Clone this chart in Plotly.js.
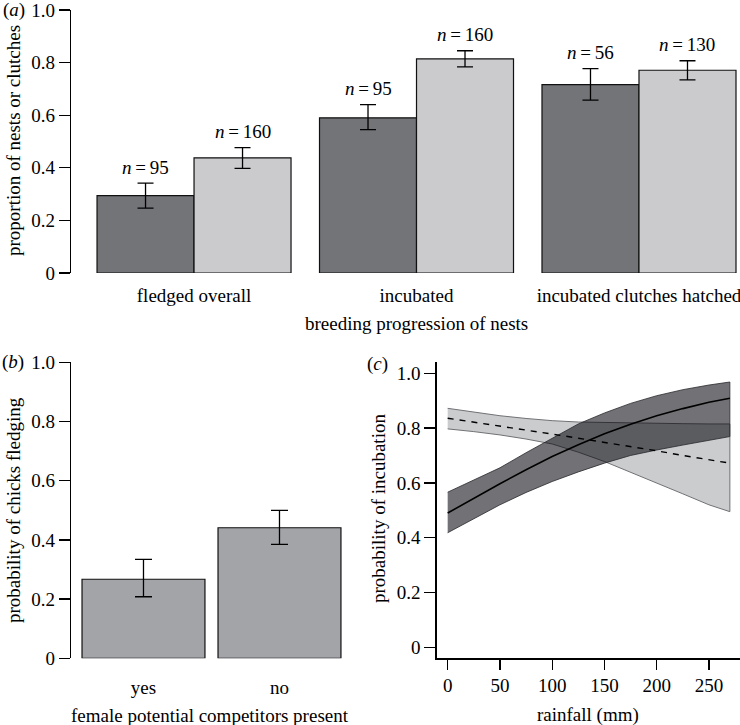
<!DOCTYPE html>
<html>
<head>
<meta charset="utf-8">
<script src="https://cdn.plot.ly/plotly-3.0.1.min.js"></script>
<style>html,body{margin:0;padding:0;background:#fff;}#chart{width:740px;height:725px;}</style>
</head>
<body>
<div id="chart"></div>
<script>
// ---------- Panel (a) data ----------
const catsA = ["fledged overall", "incubated", "incubated clutches hatched"];
const darkVals  = [0.294, 0.590, 0.716];
const darkUpper = [0.342, 0.640, 0.777];
const darkLower = [0.247, 0.545, 0.657];
const lightVals  = [0.438, 0.814, 0.771];
const lightUpper = [0.477, 0.845, 0.807];
const lightLower = [0.398, 0.784, 0.734];
const darkN  = [95, 95, 56];
const lightN = [160, 160, 130];

// ---------- Panel (b) data ----------
const catsB = ["yes", "no"];
const valsB  = [0.267, 0.441];
const upperB = [0.334, 0.500];
const lowerB = [0.208, 0.385];

// ---------- Panel (c) data ----------
const rainfall   = [0, 25, 50, 75, 100, 125, 150, 175, 200, 225, 250, 270];
const solidFit   = [0.490, 0.544, 0.597, 0.648, 0.696, 0.739, 0.779, 0.814, 0.845, 0.871, 0.894, 0.909];
const solidUpper = [0.566, 0.610, 0.655, 0.710, 0.762, 0.815, 0.855, 0.890, 0.918, 0.940, 0.957, 0.968];
const solidLower = [0.418, 0.470, 0.520, 0.565, 0.605, 0.640, 0.672, 0.700, 0.720, 0.738, 0.756, 0.769];
const dashFit    = [0.836, 0.822, 0.808, 0.793, 0.778, 0.763, 0.748, 0.732, 0.717, 0.700, 0.685, 0.672];
const dashUpper  = [0.872, 0.858, 0.845, 0.835, 0.827, 0.822, 0.820, 0.818, 0.817, 0.816, 0.815, 0.815];
const dashLower  = [0.797, 0.787, 0.775, 0.760, 0.742, 0.712, 0.678, 0.640, 0.600, 0.560, 0.520, 0.495];

const yTickVals = [0, 0.2, 0.4, 0.6, 0.8, 1.0];
const yTickText = ["0", "0.2", "0.4", "0.6", "0.8", "1.0"];
const xTickVals = [0, 50, 100, 150, 200, 250];

// ---------- helpers ----------
const W = 740, H = 725;
const px = v => v / W;
const py = v => 1 - v / H;
const FONT = "'Liberation Serif', 'Times New Roman', serif";
const FS = 19;
const sub = (a, b) => a.map((v, i) => v - b[i]);

const errStyle = {color: "#000", thickness: 1.3, width: 8};

const traces = [];
// (a)
traces.push({
  type: "bar", x: catsA, y: darkVals, xaxis: "x", yaxis: "y",
  marker: {color: "#737478", line: {color: "#111", width: 1.2}},
  error_y: Object.assign({type: "data", symmetric: false, array: sub(darkUpper, darkVals), arrayminus: sub(darkVals, darkLower)}, errStyle),
  hoverinfo: "skip", showlegend: false
});
traces.push({
  type: "bar", x: catsA, y: lightVals, xaxis: "x", yaxis: "y",
  marker: {color: "#cbcbce", line: {color: "#111", width: 1.2}},
  error_y: Object.assign({type: "data", symmetric: false, array: sub(lightUpper, lightVals), arrayminus: sub(lightVals, lightLower)}, errStyle),
  hoverinfo: "skip", showlegend: false
});
// (b)
traces.push({
  type: "bar", x: catsB, y: valsB, xaxis: "x2", yaxis: "y2", width: 0.904,
  marker: {color: "#a3a4a8", line: {color: "#111", width: 1.2}},
  error_y: Object.assign({type: "data", symmetric: false, array: sub(upperB, valsB), arrayminus: sub(valsB, lowerB)}, errStyle, {width: 8.5}),
  hoverinfo: "skip", showlegend: false
});
// (c) bands
const band = (up, lo) => ({
  x: rainfall.concat(rainfall.slice().reverse()),
  y: up.concat(lo.slice().reverse())
});
const lb = band(dashUpper, dashLower);
traces.push({
  type: "scatter", mode: "lines", x: lb.x, y: lb.y, xaxis: "x3", yaxis: "y3",
  fill: "toself", fillcolor: "#cbccce", line: {color: "#707174", width: 1},
  hoverinfo: "skip", showlegend: false
});
const db = band(solidUpper, solidLower);
traces.push({
  type: "scatter", mode: "lines", x: db.x, y: db.y, xaxis: "x3", yaxis: "y3",
  fill: "toself", fillcolor: "rgba(4,4,10,0.56)", line: {color: "rgba(40,40,45,0.8)", width: 1},
  hoverinfo: "skip", showlegend: false
});
traces.push({
  type: "scatter", mode: "lines", x: rainfall, y: dashFit, xaxis: "x3", yaxis: "y3",
  line: {color: "#000", width: 1.4, dash: "6px,6px"}, hoverinfo: "skip", showlegend: false
});
traces.push({
  type: "scatter", mode: "lines", x: rainfall, y: solidFit, xaxis: "x3", yaxis: "y3",
  line: {color: "#000", width: 1.6}, hoverinfo: "skip", showlegend: false
});

// annotations
const ann = [];
catsA.forEach((c, i) => {
  ann.push({x: c, y: darkUpper[i], xref: "x", yref: "y", xshift: -48.5, yshift: 16, yanchor: "middle",
    text: "<i>n</i>\u2009=\u2009" + darkN[i], showarrow: false, font: {family: FONT, size: FS, color: "#000"}});
  ann.push({x: c, y: lightUpper[i], xref: "x", yref: "y", xshift: 48.5, yshift: 16, yanchor: "middle",
    text: "<i>n</i>\u2009=\u2009" + lightN[i], showarrow: false, font: {family: FONT, size: FS, color: "#000"}});
});
const paperText = (text, x, y, angle) => ({
  text: text, x: px(x), y: py(y), xref: "paper", yref: "paper", xanchor: "center", yanchor: "middle",
  showarrow: false, textangle: angle || 0, font: {family: FONT, size: FS, color: "#000"}
});
ann.push(paperText("(<i>a</i>)", 14, 10));
ann.push(paperText("(<i>b</i>)", 13, 362));
ann.push(paperText("(<i>c</i>)", 377, 364));
ann.push(paperText("breeding progression of nests", 416, 323));
ann.push(paperText("proportion of nests or clutches", 13, 141, -90));
ann.push(paperText("female potential competitors present", 210, 715));
ann.push(paperText("probability of chicks fledging", 13, 510, -90));
ann.push(paperText("rainfall (mm)", 588, 715));
ann.push(paperText("probability of incubation", 378, 509, -90));

const tickFont = {family: FONT, size: FS, color: "#000"};
const yAxisCommon = {
  tickmode: "array", tickvals: yTickVals, ticktext: yTickText, ticks: "outside", ticklen: 11, tickwidth: 1.3,
  tickcolor: "#000", showline: true, linecolor: "#000", linewidth: 1.3, showgrid: false, zeroline: false,
  tickfont: tickFont, fixedrange: true, ticklabeloverflow: "allow"
};

const layout = {
  width: W, height: H, margin: {l: 0, r: 0, t: 0, b: 0},
  paper_bgcolor: "#fff", plot_bgcolor: "rgba(0,0,0,0)",
  font: {family: FONT, size: FS, color: "#000"},
  barmode: "group", bargap: 0.128, bargroupgap: 0,
  showlegend: false,
  xaxis: {domain: [px(71), 1], type: "category", range: [-0.553, 2.454], showline: false, ticks: "",
    showgrid: false, zeroline: false, tickfont: tickFont, anchor: "y", ticklabelstandoff: 9, fixedrange: true,
    ticklabeloverflow: "allow"},
  yaxis: Object.assign({domain: [py(273), py(10)], range: [0, 1], anchor: "x"}, yAxisCommon),
  xaxis2: {domain: [px(71), px(360)], type: "category", range: [-0.533, 1.592], showline: false, ticks: "",
    showgrid: false, zeroline: false, tickfont: tickFont, anchor: "y2", ticklabelstandoff: 16, fixedrange: true},
  yaxis2: Object.assign({domain: [py(658.3), py(362.3)], range: [0, 1], anchor: "x2"}, yAxisCommon),
  xaxis3: {domain: [px(436.7), 1], range: [-10.5, 279.7], tickmode: "array", tickvals: xTickVals,
    ticks: "outside", ticklen: 10, tickwidth: 1.3, tickcolor: "#000", showline: true, linecolor: "#000", linewidth: 1.3,
    showgrid: false, zeroline: false, tickfont: tickFont, anchor: "y3", fixedrange: true},
  yaxis3: Object.assign({domain: [py(658.3), py(362)], range: [-0.04, 1.041], anchor: "x3"}, yAxisCommon),
  annotations: ann
};

Plotly.newPlot("chart", traces, layout, {staticPlot: true, displayModeBar: false});
</script>
</body>
</html>
